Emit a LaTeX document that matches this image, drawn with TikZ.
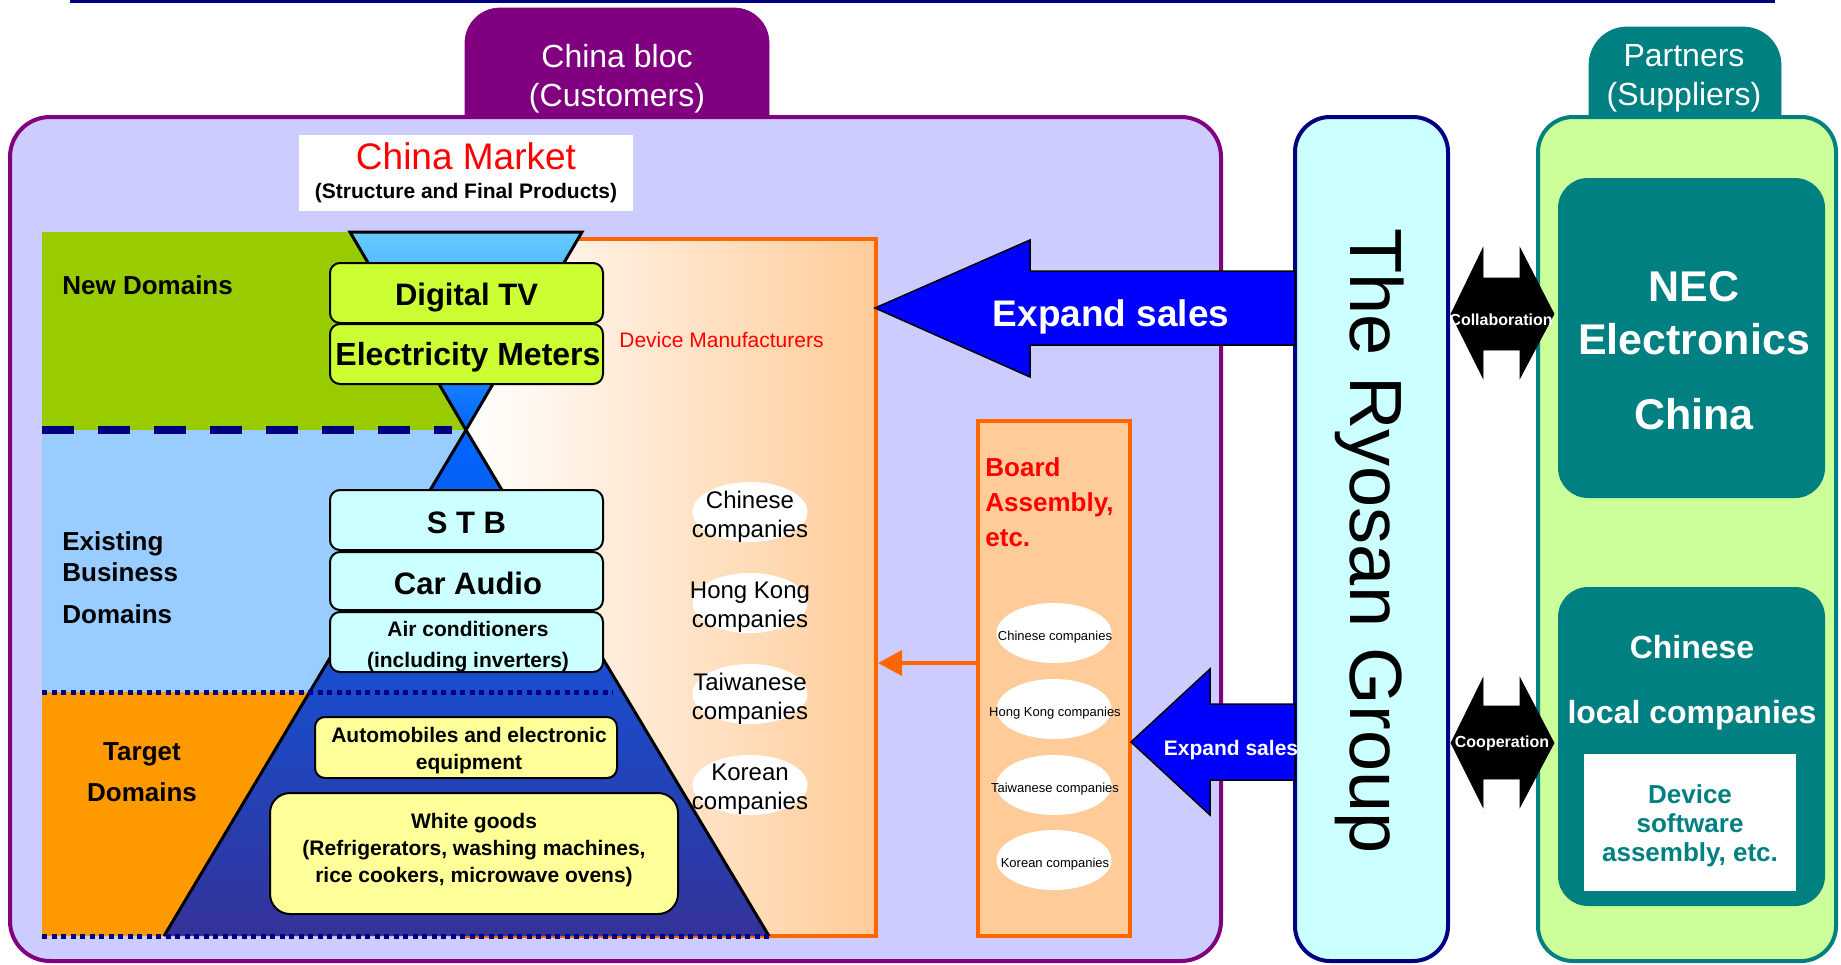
\documentclass[tikz,border=0pt]{standalone}
\usepackage{fontspec}
\setmainfont{Liberation Sans}
\usetikzlibrary{arrows.meta,shapes.geometric}

\definecolor{blocpurple}{HTML}{800080}
\definecolor{blocfill}{HTML}{CCCCFF}
\definecolor{navyline}{HTML}{000080}
\definecolor{ryosanfill}{HTML}{CCFFFF}
\definecolor{partnerteal}{HTML}{008080}
\definecolor{partnerfill}{HTML}{CCFF99}
\definecolor{newgreen}{HTML}{99CC00}
\definecolor{existblue}{HTML}{99CCFF}
\definecolor{targetorange}{HTML}{FF9900}
\definecolor{devorange}{HTML}{FFCC99}
\definecolor{devcream}{HTML}{FFF0E4}
\definecolor{boardorange}{HTML}{FF6600}
\definecolor{tvgreen}{HTML}{CCFF33}
\definecolor{paleyellow}{HTML}{FFFF99}
\definecolor{funnelblue}{HTML}{66CCFF}
\definecolor{neckblue}{HTML}{0066FF}
\definecolor{pyrmid}{HTML}{2255CC}
\definecolor{pyrbase}{HTML}{333399}
\definecolor{arrowblue}{HTML}{0000FF}

\newcommand{\setfs}[2]{\fontsize{#1}{#2}\selectfont}

\tikzset{every picture/.style={line width=0.75pt}}
\tikzset{
  prodbox/.style={draw=black, line width=2pt, rounded corners=10pt, minimum width=273pt,
    minimum height=60pt, inner sep=0pt},
  prodtext/.style={inner sep=0pt, align=center, font=\bfseries\setfs{#1}{#1}},
  domainlbl/.style={inner sep=0pt, align=left, font=\bfseries\setfs{26}{31}},
  oval/.style={ellipse, fill=white, minimum width=115pt, minimum height=60pt, inner sep=0pt},
  tealbox/.style={fill=partnerteal, rounded corners=30pt, minimum width=267pt, inner sep=0pt},
  tabtext/.style={white, align=center, inner sep=0pt, font=\setfs{32}{39}},
  blockarrow/.style={fill=arrowblue, draw=black, line width=1.5pt, line join=miter},
  duoarrow/.style={fill=black},
  navydots/.style={navyline, line width=5pt, dash pattern=on 5pt off 4.5pt}
}

\begin{document}
\begin{tikzpicture}[x=1pt,y=1pt,yscale=-1,xscale=1]
\useasboundingbox (0,0) rectangle (1841,964);

%Straight Lines: top rule
\draw [navyline, line width=3pt] (70,1.5) -- (1775,1.5);

%Shape: tabs
\draw [fill=blocpurple, draw=blocpurple, rounded corners=35pt] (465,160) -- (465,8) -- (769,8) -- (769,160) -- cycle;
\draw [fill=partnerteal, draw=partnerteal, rounded corners=38pt] (1589,160) -- (1589,27) -- (1781,27) -- (1781,160) -- cycle;

%Shape: main frames
\draw [draw=blocpurple, fill=blocfill, line width=4pt, rounded corners=40pt] (10,117) rectangle (1221,961);
\node [draw=navyline, fill=ryosanfill, line width=4pt, rounded corners=35pt, minimum width=153pt, minimum height=844pt, inner sep=0pt] (ryosan) at (1371.5,539) {};
\draw [draw=partnerteal, fill=partnerfill, line width=4pt, rounded corners=35pt] (1538,117) rectangle (1836,961);

% Text Node
\node [tabtext] (bloctab) at (617,79) {China bloc\\(Customers)};
\node [tabtext] (partnertab) at (1684,78.5) {Partners\\(Suppliers)};

%Shape: domain bands
\fill [newgreen] (42,232) rectangle (466,430);
\fill [existblue] (42,430) rectangle (466,692);
\fill [targetorange] (42,692) rectangle (466,936);

%Shape: device manufacturers
\node [draw=boardorange, line width=4pt, left color=white, middle color=devcream, right color=devorange, minimum width=410pt, minimum height=697pt, inner sep=0pt] (devmaker) at (671,587.5) {};

%Shape: hourglass and pyramid
\shade [top color=funnelblue, bottom color=neckblue] (350,232) -- (582,232) -- (466,430) -- cycle;
\draw [line width=3pt] (350,232) -- (582,232) -- (466,430) -- cycle;
\shade [top color=neckblue, middle color=pyrmid, bottom color=pyrbase] (466,430) -- (769,936) -- (164,936) -- cycle;
\draw [line width=3pt] (164,936) -- (466,430) -- (769,936);

%Straight Lines: domain borders
\draw [navyline, line width=8pt, dash pattern=on 32pt off 24pt] (42,430) -- (452,430);
\draw [navydots] (42,692) -- (613,692);
\draw [navydots] (42,936) -- (769,936);

% Text Node: domain labels
\node [domainlbl, anchor=west] (newdom) at (62,285) {New Domains};
\node [domainlbl, anchor=west] (existdom) at (62,578) {Existing\\Business\\[11pt]Domains};
\node [domainlbl, align=center, font=\bfseries\setfs{26}{41}] (targetdom) at (142,772) {Target\\Domains};

% Text Node: title
\node [fill=white, minimum width=334pt, minimum height=76pt, inner sep=0pt, align=center, font=\setfs{21}{36}] (market) at (466,173)
  {{\color{red}\setfs{37}{36}China Market}\\[-7pt]{\bfseries(Structure and Final Products)}};

%Shape: product boxes
\node [prodbox, fill=tvgreen] (digitaltv) at (466.5,293) {};
\node [prodbox, fill=tvgreen] (meters) at (466.5,354) {};
\node [prodbox, fill=ryosanfill] (stb) at (466.5,520) {};
\node [prodbox, fill=ryosanfill, minimum height=58pt] (caraudio) at (466.5,581) {};
\node [prodbox, fill=ryosanfill] (aircon) at (466.5,642) {};
\node [prodbox, fill=paleyellow, minimum width=302pt, minimum height=61pt] (automobile) at (466,747.5) {};
\node [prodbox, fill=paleyellow, rounded corners=20pt, minimum width=408pt, minimum height=121pt] (whitegoods) at (474,853.5) {};
% Text Node
\node [prodtext=31] (digitaltvlabel) at (466.5,297.5) {Digital TV};
\node [prodtext=31, font=\bfseries\setfs{32}{32}] (meterslabel) at (468,357.5) {Electricity Meters};
\node [prodtext=31] (stblabel) at (466.5,522.5) {S T B};
\node [prodtext=31] (caraudiolabel) at (468,583.5) {Car Audio};
\node [prodtext=21, font=\bfseries\setfs{21}{31}] (airconlabel) at (468,647) {Air conditioners\\(including inverters)};
\node [prodtext=21, font=\bfseries\setfs{21}{27}] (automobilelabel) at (469,751) {Automobiles and electronic\\equipment};
\node [prodtext=21, font=\bfseries\setfs{21}{27}] (whitegoodslabel) at (474,850)
  {White goods\\(Refrigerators, washing machines,\\rice cookers, microwave ovens)};

% Text Node: device manufacturers
\node [red, anchor=west, inner sep=0pt, font=\setfs{21}{25}] (devlabel) at (619,340) {Device Manufacturers};
\foreach \name/\txt/\yy in {cn/Chinese/512, hk/Hong Kong/603, tw/Taiwanese/694, kr/Korean/785}{
  \node [oval] (dev\name) at (750,\yy) {};
  \node [align=center, inner sep=0pt, font=\setfs{24}{29}] at (750,\yy+4.5) {\txt\\companies};
}

%Shape: board assembly
\node [draw=boardorange, fill=devorange, line width=4pt, minimum width=152pt, minimum height=515pt, inner sep=0pt] (board) at (1054,678.5) {};
\node [red, anchor=north west, align=left, inner sep=0pt, font=\bfseries\setfs{26}{35}] (boardlabel) at (985,457) {Board\\Assembly,\\etc.};
\foreach \name/\txt/\yy in {cn/Chinese/633, hk/Hong Kong/709, tw/Taiwanese/785, kr/Korean/860}{
  \node [oval] (brd\name) at (1054,\yy) {};
  \node [inner sep=0pt, font=\setfs{13}{15}] at (1055,\yy+4) {\txt\ companies};
}

%Straight Lines: board to device makers
\coordinate (feed) at (0,663);
\draw [boardorange, line width=4pt, -{Triangle[length=24pt,width=25pt]}] (board.west |- feed) -- (devmaker.east |- feed);

%Shape: expand sales arrows
\draw [blockarrow] (875,308) -- (1030,240) -- (1030,271) -- (1295,271) -- (1295,345) -- (1030,345) -- (1030,377) -- cycle;
\node [white, inner sep=0pt, font=\bfseries\setfs{37}{40}] (salesbig) at (1111,317) {Expand sales};
\draw [blockarrow] (1131,742) -- (1210,669) -- (1210,704) -- (1295,704) -- (1295,780) -- (1210,780) -- (1210,815) -- cycle;
\node [white, inner sep=0pt, font=\bfseries\setfs{21}{25}] (salessmall) at (1231,750) {Expand sales};

% Text Node: Ryosan
\node [anchor=base, rotate=-90, inner sep=0pt, font=\setfs{74}{80}] (ryosanlabel) at (1350,541) {The Ryosan Group};

%Shape: partner arrows
\draw [duoarrow] (1451,314) -- (1483,248) -- (1483,278) -- (1520,278) -- (1520,248) -- (1554,314) -- (1520,378) -- (1520,350) -- (1483,350) -- (1483,378) -- cycle;
\node [white, inner sep=0pt, font=\bfseries\setfs{16}{18}] (collab) at (1501,320) {Collaboration};
\draw [duoarrow] (1451,743) -- (1483,678) -- (1483,706) -- (1520,706) -- (1520,678) -- (1554,743) -- (1520,807) -- (1520,779) -- (1483,779) -- (1483,807) -- cycle;
\node [white, inner sep=0pt, font=\bfseries\setfs{16}{18}] (coop) at (1502,743) {Cooperation};

%Shape: partners
\node [tealbox, minimum height=320pt] (nec) at (1691.5,338) {};
\node [white, align=center, inner sep=0pt, font=\bfseries\setfs{43}{53}] (neclabel) at (1694,351) {NEC\\Electronics\\[22pt]China};
\node [tealbox, minimum height=319pt] (localco) at (1691.5,746.5) {};
\node [white, align=center, inner sep=0pt, font=\bfseries\setfs{32}{65}] (locallabel) at (1692,683) {Chinese\\local companies};
\node [fill=white, minimum width=212pt, minimum height=137pt, inner sep=0pt] (devsoft) at (1690,822.5) {};
\node [align=center, inner sep=0pt, text=partnerteal, font=\bfseries\setfs{26}{29}] (devsoftlabel) at (1690,826)
  {Device\\software\\assembly, etc.};

\end{tikzpicture}
\end{document}
